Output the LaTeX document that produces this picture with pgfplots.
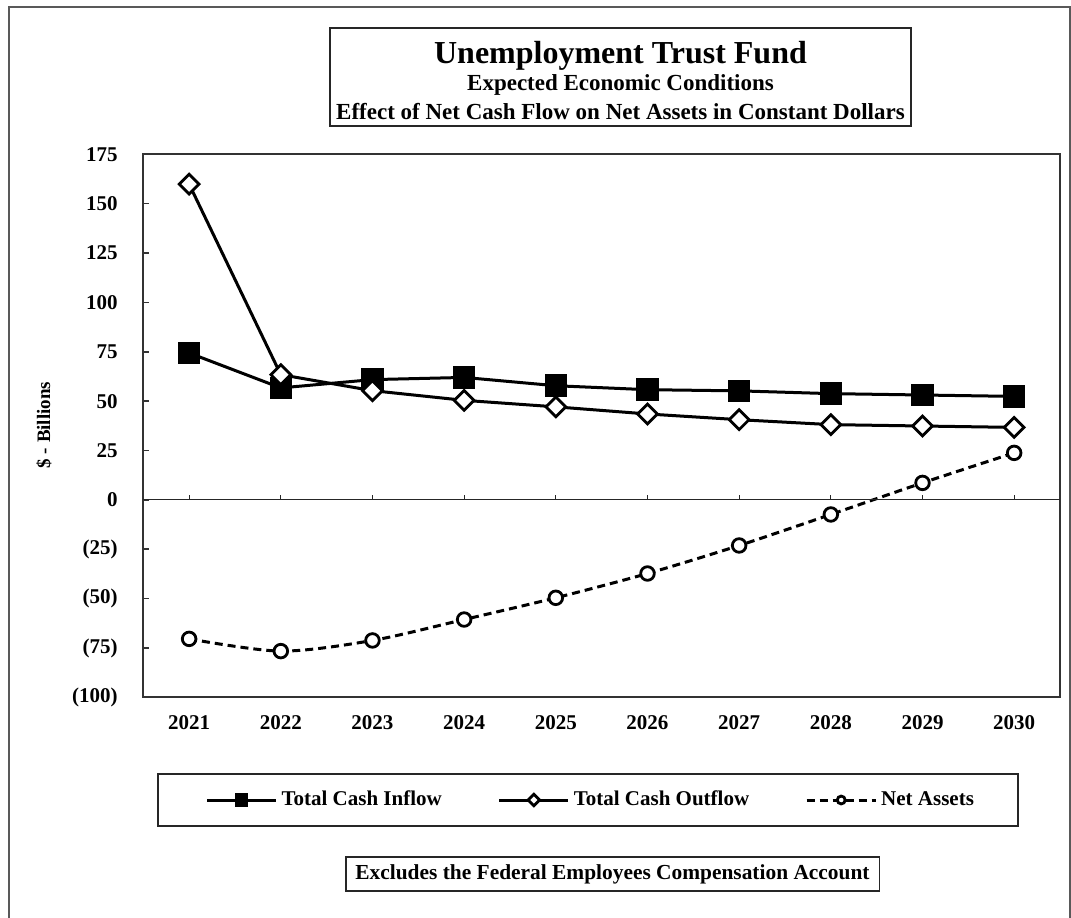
\documentclass[border=0pt]{standalone}
\usepackage{fontspec}
\setmainfont{Liberation Serif}
\usepackage{pgfplots}
\pgfplotsset{compat=1.18}
\begin{document}
\begin{tikzpicture}
\useasboundingbox (0pt,0pt) rectangle (535.5pt,-458.5pt);
% outer frame
\draw[black!65, line width=1pt] (4.5pt,-3.6pt) rectangle (535pt,-462pt);
% title box
\draw[black!85, line width=0.8pt, fill=white] (165pt,-14pt) rectangle (455.5pt,-63pt);
\node[anchor=base, font=\fontsize{16}{19}\selectfont\bfseries] at (310.25pt,-31.5pt) {Unemployment Trust Fund};
\node[anchor=base, font=\fontsize{11.5}{13}\selectfont\bfseries] at (310.25pt,-45pt) {Expected Economic Conditions};
\node[anchor=base, font=\fontsize{11.5}{13}\selectfont\bfseries] at (310.25pt,-59.65pt) {Effect of Net Cash Flow on Net Assets in Constant Dollars};
% y label
\node[rotate=90, font=\fontsize{9.5}{11}\selectfont\bfseries] at (22pt,-212.5pt) {\$ - Billions};
% legend box
\draw[black!85, line width=0.8pt] (78.85pt,-387pt) rectangle (508.85pt,-412.85pt);
% note box
\draw[black!85, line width=0.8pt] (172.85pt,-428.5pt) rectangle (439.65pt,-445.5pt);
\node[font=\fontsize{10.7}{12}\selectfont\bfseries] at (306.25pt,-437pt) {Excludes the Federal Employees Compensation Account};

\begin{axis}[
  at={(71.65pt,-77.15pt)}, anchor=north west,
  scale only axis, width=458.35pt, height=271.5pt,
  xmin=2020.5, xmax=2030.5, ymin=-100, ymax=175,
  xtick={2021,2022,2023,2024,2025,2026,2027,2028,2029,2030},
  xticklabels={2021,2022,2023,2024,2025,2026,2027,2028,2029,2030},
  x tick style={draw=none},
  ytick={-100,-75,-50,-25,0,25,50,75,100,125,150,175},
  yticklabels={(100),(75),(50),(25),0,25,50,75,100,125,150,175},
  ytick pos=left, tick align=inside, major tick length=3pt,
  axis line style={black!80, line width=1pt},
  y tick style={black!80, line width=0.8pt},
  ticklabel style={font=\fontsize{10.5}{12}\selectfont\bfseries},
  yticklabel style={anchor=east, inner sep=0pt, xshift=-12.6pt},
  xticklabel style={anchor=north, inner sep=0pt, yshift=-9pt},
  legend style={draw=none, fill=none, at={(0.4892,-0.1891)}, anchor=center,
    font=\fontsize{10.5}{12}\selectfont\bfseries,
    /tikz/every even column/.append style={column sep=26pt}},
  legend columns=3,
  legend image code/.code={\draw[mark repeat=2, mark phase=2, #1, /tikz/every mark/.append style={scale=0.58}] plot coordinates {(0pt,0pt) (17.25pt,0pt) (34.5pt,0pt)};},
]
\addplot[black, line width=1.5pt, mark=square*, mark size=5.25pt,
  mark options={solid, fill=black, line width=0.8pt}]
  coordinates {(2021,74.4) (2022,56.7) (2023,60.9) (2024,62.0) (2025,57.8) (2026,55.8) (2027,55.2) (2028,53.8) (2029,53.1) (2030,52.4)};
\addlegendentry{Total Cash Inflow}
\addplot[black, line width=1.5pt, mark=square*, mark size=3.5pt,
  mark options={solid, fill=white, rotate=45, line width=1.4pt}]
  coordinates {(2021,159.9) (2022,63.4) (2023,55.3) (2024,50.4) (2025,47.1) (2026,43.5) (2027,40.6) (2028,38.1) (2029,37.4) (2030,36.7)};
\addlegendentry{Total Cash Outflow}
\addplot[black, line width=1.5pt, dash pattern=on 4pt off 2.5pt, smooth, mark=*, mark size=3.4pt,
  mark options={solid, fill=white, line width=1.4pt}]
  coordinates {(2021,-70.4) (2022,-76.6) (2023,-71.2) (2024,-60.6) (2025,-49.6) (2026,-37.3) (2027,-23.1) (2028,-7.4) (2029,8.6) (2030,23.8)};
\addlegendentry{Net Assets}
\end{axis}

\begin{axis}[
  at={(71.65pt,-77.15pt)}, anchor=north west,
  scale only axis, width=458.35pt, height=271.5pt,
  xmin=2020.5, xmax=2030.5, ymin=-100, ymax=175,
  axis x line=middle, axis y line=none,
  x axis line style={-, black!85, line width=0.6pt},
  xtick={2021,2022,2023,2024,2025,2026,2027,2028,2029,2030},
  xticklabels={}, ytick=\empty,
  tick align=center, major tick length=2.2pt,
  x tick style={black!85, line width=0.6pt, yshift=1.1pt},
  hide obscured x ticks=false,
]
\end{axis}
\end{tikzpicture}
\end{document}
